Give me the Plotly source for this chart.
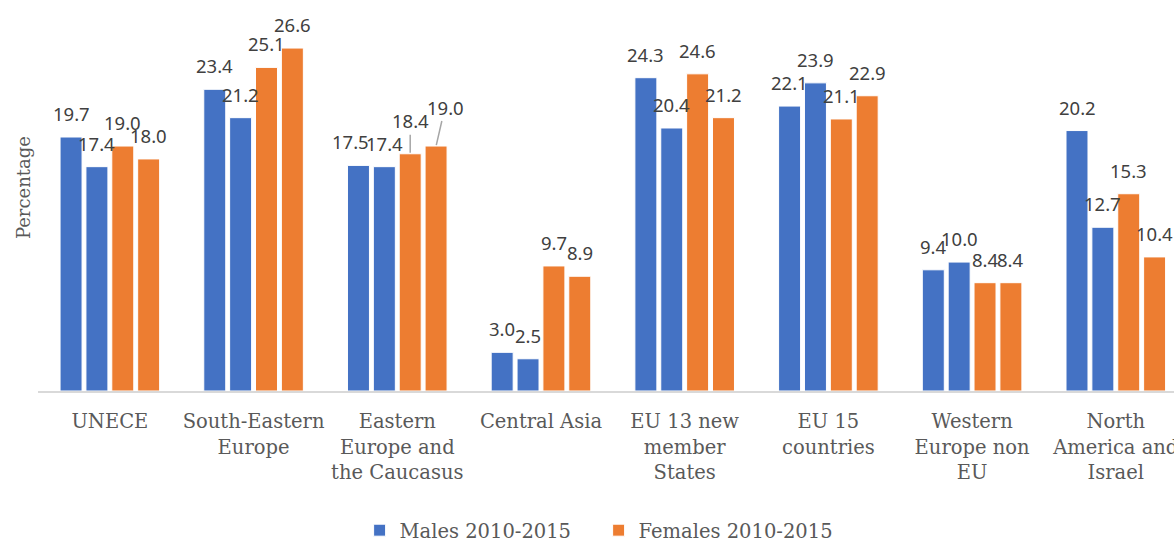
import plotly.graph_objects as go

categories = [
    "UNECE",
    "South-Eastern<br>Europe",
    "Eastern<br>Europe and<br>the Caucasus",
    "Central Asia",
    "EU 13 new<br>member<br>States",
    "EU 15<br>countries",
    "Western<br>Europe non<br>EU",
    "North<br>America and<br>Israel",
]
males_2000_2005 = [19.7, 23.4, 17.5, 3.0, 24.3, 22.1, 9.4, 20.2]
males_2010_2015 = [17.4, 21.2, 17.4, 2.5, 20.4, 23.9, 10.0, 12.7]
females_2000_2005 = [19.0, 25.1, 18.4, 9.7, 24.6, 21.1, 8.4, 15.3]
females_2010_2015 = [18.0, 26.6, 19.0, 8.9, 21.2, 22.9, 8.4, 10.4]

series = [
    ("Males 2000-2005", males_2000_2005, "#4472C4", False),
    ("Males 2010-2015", males_2010_2015, "#4472C4", True),
    ("Females 2000-2005", females_2000_2005, "#ED7D31", False),
    ("Females 2010-2015", females_2010_2015, "#ED7D31", True),
]

# label nudges (series index, category index) -> (dx px, text centre height above bar px or None)
label_nudges = {(0, 2): (-8, None), (2, 2): (0, 33), (3, 2): (9, 39)}

BARGAP = 0.28
BARGROUPGAP = 0.15
label_font = dict(family="Noto Sans, Liberation Sans, sans-serif", size=18.5, color="#404040")
serif = "DejaVu Serif, Liberation Serif, serif"
grey_text = "#595959"

xs = list(range(len(categories)))
fig = go.Figure()
annotations = []
n = len(series)
slot = (1 - BARGAP) / n
for k, (name, vals, color, show) in enumerate(series):
    fig.add_trace(go.Bar(
        x=xs, y=vals, name=name, showlegend=show,
        marker=dict(color=color, line=dict(color="white", width=1)),
        cliponaxis=True,
    ))
    for i, v in enumerate(vals):
        xc = i + (k - (n - 1) / 2) * slot
        dx, lift = label_nudges.get((k, i), (0, None))
        if lift is not None:
            annotations.append(dict(
                x=xc, y=v, xref="x", yref="y", text=f"{v:.1f}",
                showarrow=True, arrowhead=0, arrowwidth=1.5, arrowcolor="#A6A6A6",
                ax=dx, ay=-lift, standoff=1, font=label_font,
            ))
        else:
            annotations.append(dict(
                x=xc, y=v, xref="x", yref="y", text=f"{v:.1f}", showarrow=False,
                yanchor="bottom", xanchor="center", xshift=dx, yshift=9, font=label_font,
            ))

annotations.append(dict(
    x=-0.0132, y=0.562, xref="paper", yref="paper", text="Percentage", showarrow=False,
    textangle=-90, xanchor="center", yanchor="middle",
    font=dict(family=serif, size=18, color=grey_text),
))

fig.update_layout(
    width=1174, height=550,
    margin=dict(l=38, r=0, t=30, b=159),
    barmode="group", bargap=BARGAP, bargroupgap=BARGROUPGAP,
    plot_bgcolor="white", paper_bgcolor="white",
    showlegend=True,
    legend=dict(orientation="h", x=0.4935, xanchor="center", xref="paper",
                y=0.0, yanchor="bottom", yref="container", entrywidth=194,
                font=dict(family=serif, size=19.5, color=grey_text), traceorder="normal"),
    xaxis=dict(
        tickmode="array", tickvals=xs, ticktext=categories,
        range=[-0.5, 7.405], showline=True, linecolor="#D9D9D9", linewidth=1.5,
        ticks="outside", ticklen=12, tickcolor="rgba(0,0,0,0)",
        ticklabeloverflow="allow",
        showgrid=False, zeroline=False, automargin=False,
        tickfont=dict(family=serif, size=19.5, color=grey_text),
    ),
    yaxis=dict(range=[0, 28], showticklabels=False, showgrid=False, zeroline=False,
               automargin=False),
    annotations=annotations,
)

fig.write_html("out.html", config={"displayModeBar": False},
               post_script="document.body.style.margin='0';document.body.style.overflow='hidden';")
